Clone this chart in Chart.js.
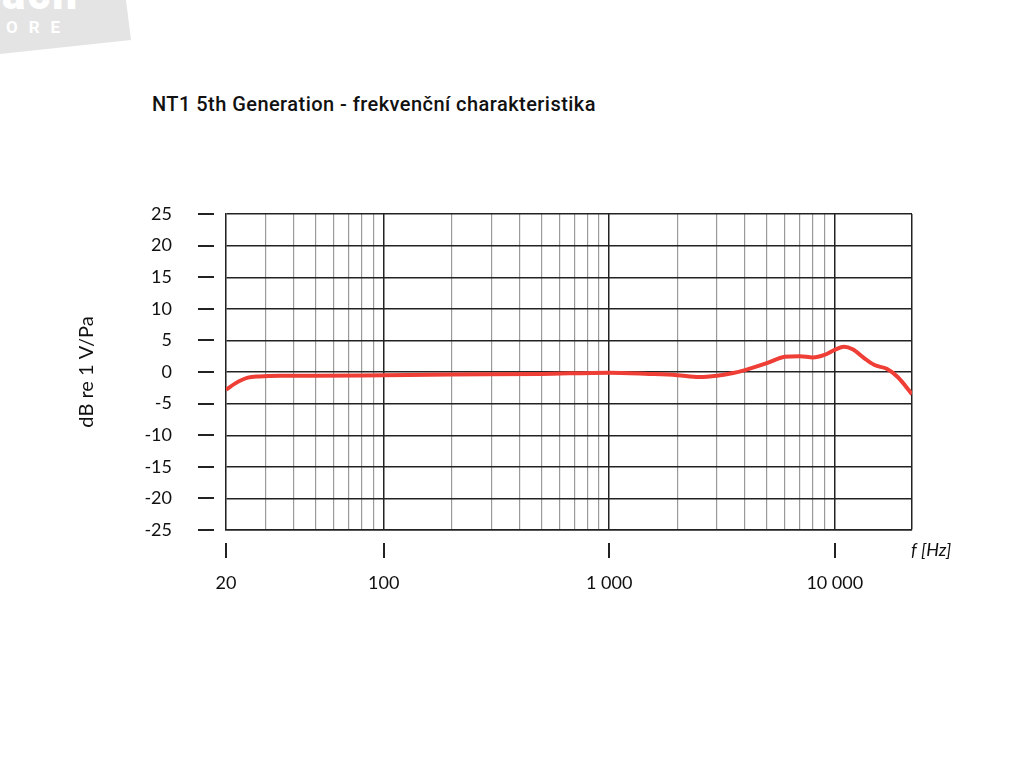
<!DOCTYPE html>
<html lang="cs">
<head>
<meta charset="UTF-8">
<title>NT1 5th Generation - frekvenční charakteristika</title>
<script src="https://cdn.jsdelivr.net/npm/chart.js"></script>
<style>
    body {
        margin: 0;
        background: #fff;
        width: 1024px;
        height: 768px;
        overflow: hidden;
        position: relative;
        font-family: Lato, sans-serif;
    }
    .logo {
        position: absolute;
        left: 0;
        top: 0;
        width: 132px;
        height: 56px;
        background: #e4e4e4;
        clip-path: polygon(0 0, 126px 0, 131px 40px, 0 54px);
        overflow: hidden;
    }
    .logo .big {
        position: absolute;
        left: 2px;
        top: -32px;
        font: 900 44px Roboto, sans-serif;
        color: #fff;
        letter-spacing: 2px;
    }
    .logo .small {
        position: absolute;
        left: 6px;
        top: 17px;
        font: 700 17px Roboto, sans-serif;
        color: #fff;
        letter-spacing: 11px;
    }
    h1 {
        position: absolute;
        left: 152px;
        top: 92px;
        margin: 0;
        font: 500 20px Roboto, sans-serif;
        letter-spacing: 0.45px;
        color: #111;
    }
    canvas {
        position: absolute;
        left: 0;
        top: 0;
    }
</style>
</head>
<body>

<div class="logo"><span class="big">ach</span><span class="small">ORE</span></div>
<h1>NT1 5th Generation - frekvenční charakteristika</h1>
<canvas id="graf" width="1024" height="768"></canvas>

<script>
    // frekvence [Hz] a citlivost [dB]
    const frekvence = [20, 22, 25, 28, 35, 50, 100, 200, 500, 1000, 1500, 2000, 2500, 3000, 3500, 4000, 5000, 6000, 7000, 8000, 9000, 10000, 11000, 12000, 13500, 15000, 17000, 19000, 22000];
    const hodnoty =   [-2.8, -1.8, -0.9, -0.7, -0.6, -0.6, -0.5, -0.4, -0.3, -0.1, -0.3, -0.5, -0.8, -0.6, -0.2, 0.3, 1.4, 2.4, 2.5, 2.3, 2.7, 3.5, 4.0, 3.6, 2.2, 1.1, 0.5, -0.8, -3.5];

    const yTicks = [-25, -20, -15, -10, -5, 0, 5, 10, 15, 20, 25];
    const xPopisky = [20, 100, 1000, 10000];
    const xHlavni = [100, 1000, 10000];
    const xMrizka = [20, 30, 40, 50, 60, 70, 80, 90, 100, 200, 300, 400, 500, 600, 700, 800, 900,
                     1000, 2000, 3000, 4000, 5000, 6000, 7000, 8000, 9000, 10000, 22000];

    const PLOT_LEFT = 226, PLOT_TOP = 214, PLOT_RIGHT = 912, PLOT_BOTTOM = 530;

    function formatHz(v) {
        return String(v).replace(/\B(?=(\d{3})+(?!\d))/g, '\u202F');
    }

    // carky vedle popisku os a jednotka f [Hz]
    const znacky = {
        id: 'znacky',
        afterDraw(chart) {
            const c = chart.ctx;
            const x = chart.scales.x, y = chart.scales.y;
            c.save();
            c.strokeStyle = '#222';
            c.lineWidth = 2;
            yTicks.forEach(v => {
                const py = Math.round(y.getPixelForValue(v));
                c.beginPath();
                c.moveTo(198, py);
                c.lineTo(214, py);
                c.stroke();
            });
            xPopisky.forEach(v => {
                const px = Math.round(x.getPixelForValue(v));
                c.beginPath();
                c.moveTo(px, 543);
                c.lineTo(px, 558);
                c.stroke();
            });
            c.fillStyle = '#111';
            c.font = 'italic 18px Lato, sans-serif';
            c.textBaseline = 'middle';
            c.fillText('f [Hz]', 911, 550);
            c.restore();
        }
    };

    new Chart(document.getElementById('graf'), {
        type: 'line',
        data: {
            datasets: [{
                data: frekvence.map((f, i) => ({ x: f, y: hodnoty[i] })),
                borderColor: '#ee3e35',
                borderWidth: 4,
                pointRadius: 0,
                cubicInterpolationMode: 'monotone',
                fill: false
            }]
        },
        options: {
            responsive: false,
            animation: false,
            layout: {
                padding: { left: 60, top: PLOT_TOP, right: 1024 - PLOT_RIGHT, bottom: 0 }
            },
            plugins: {
                legend: { display: false },
                tooltip: { enabled: false }
            },
            scales: {
                x: {
                    type: 'logarithmic',
                    min: 20,
                    max: 22000,
                    afterBuildTicks(scale) {
                        scale.ticks = xMrizka.map(v => ({ value: v }));
                    },
                    afterFit(scale) {
                        scale.height = 768 - PLOT_BOTTOM;
                    },
                    ticks: {
                        autoSkip: false,
                        maxRotation: 0,
                        padding: 42,
                        color: '#111',
                        font: { family: 'Lato', size: 18 },
                        callback: v => xPopisky.includes(v) ? formatHz(v) : ''
                    },
                    grid: {
                        drawTicks: false,
                        color: ctx => (xHlavni.includes(ctx.tick.value) || ctx.tick.value === 22000) ? '#222' : '#9a9a9a',
                        lineWidth: ctx => (xHlavni.includes(ctx.tick.value) || ctx.tick.value === 22000) ? 1.5 : 1.2
                    },
                    border: { color: '#222', width: 1.5 }
                },
                y: {
                    min: -25,
                    max: 25,
                    afterBuildTicks(scale) {
                        scale.ticks = yTicks.map(v => ({ value: v }));
                    },
                    afterFit(scale) {
                        scale.width = PLOT_LEFT - 60;
                    },
                    ticks: {
                        padding: 54,
                        color: '#111',
                        font: { family: 'Lato', size: 18 }
                    },
                    grid: {
                        drawTicks: false,
                        color: '#222',
                        lineWidth: 1.4
                    },
                    border: { color: '#222', width: 1.5 },
                    title: {
                        display: true,
                        text: 'dB re 1 V/Pa',
                        color: '#111',
                        font: { family: 'Lato', size: 20 },
                        padding: { top: 15, bottom: 0 }
                    }
                }
            }
        },
        plugins: [znacky]
    });
</script>

</body>
</html>
